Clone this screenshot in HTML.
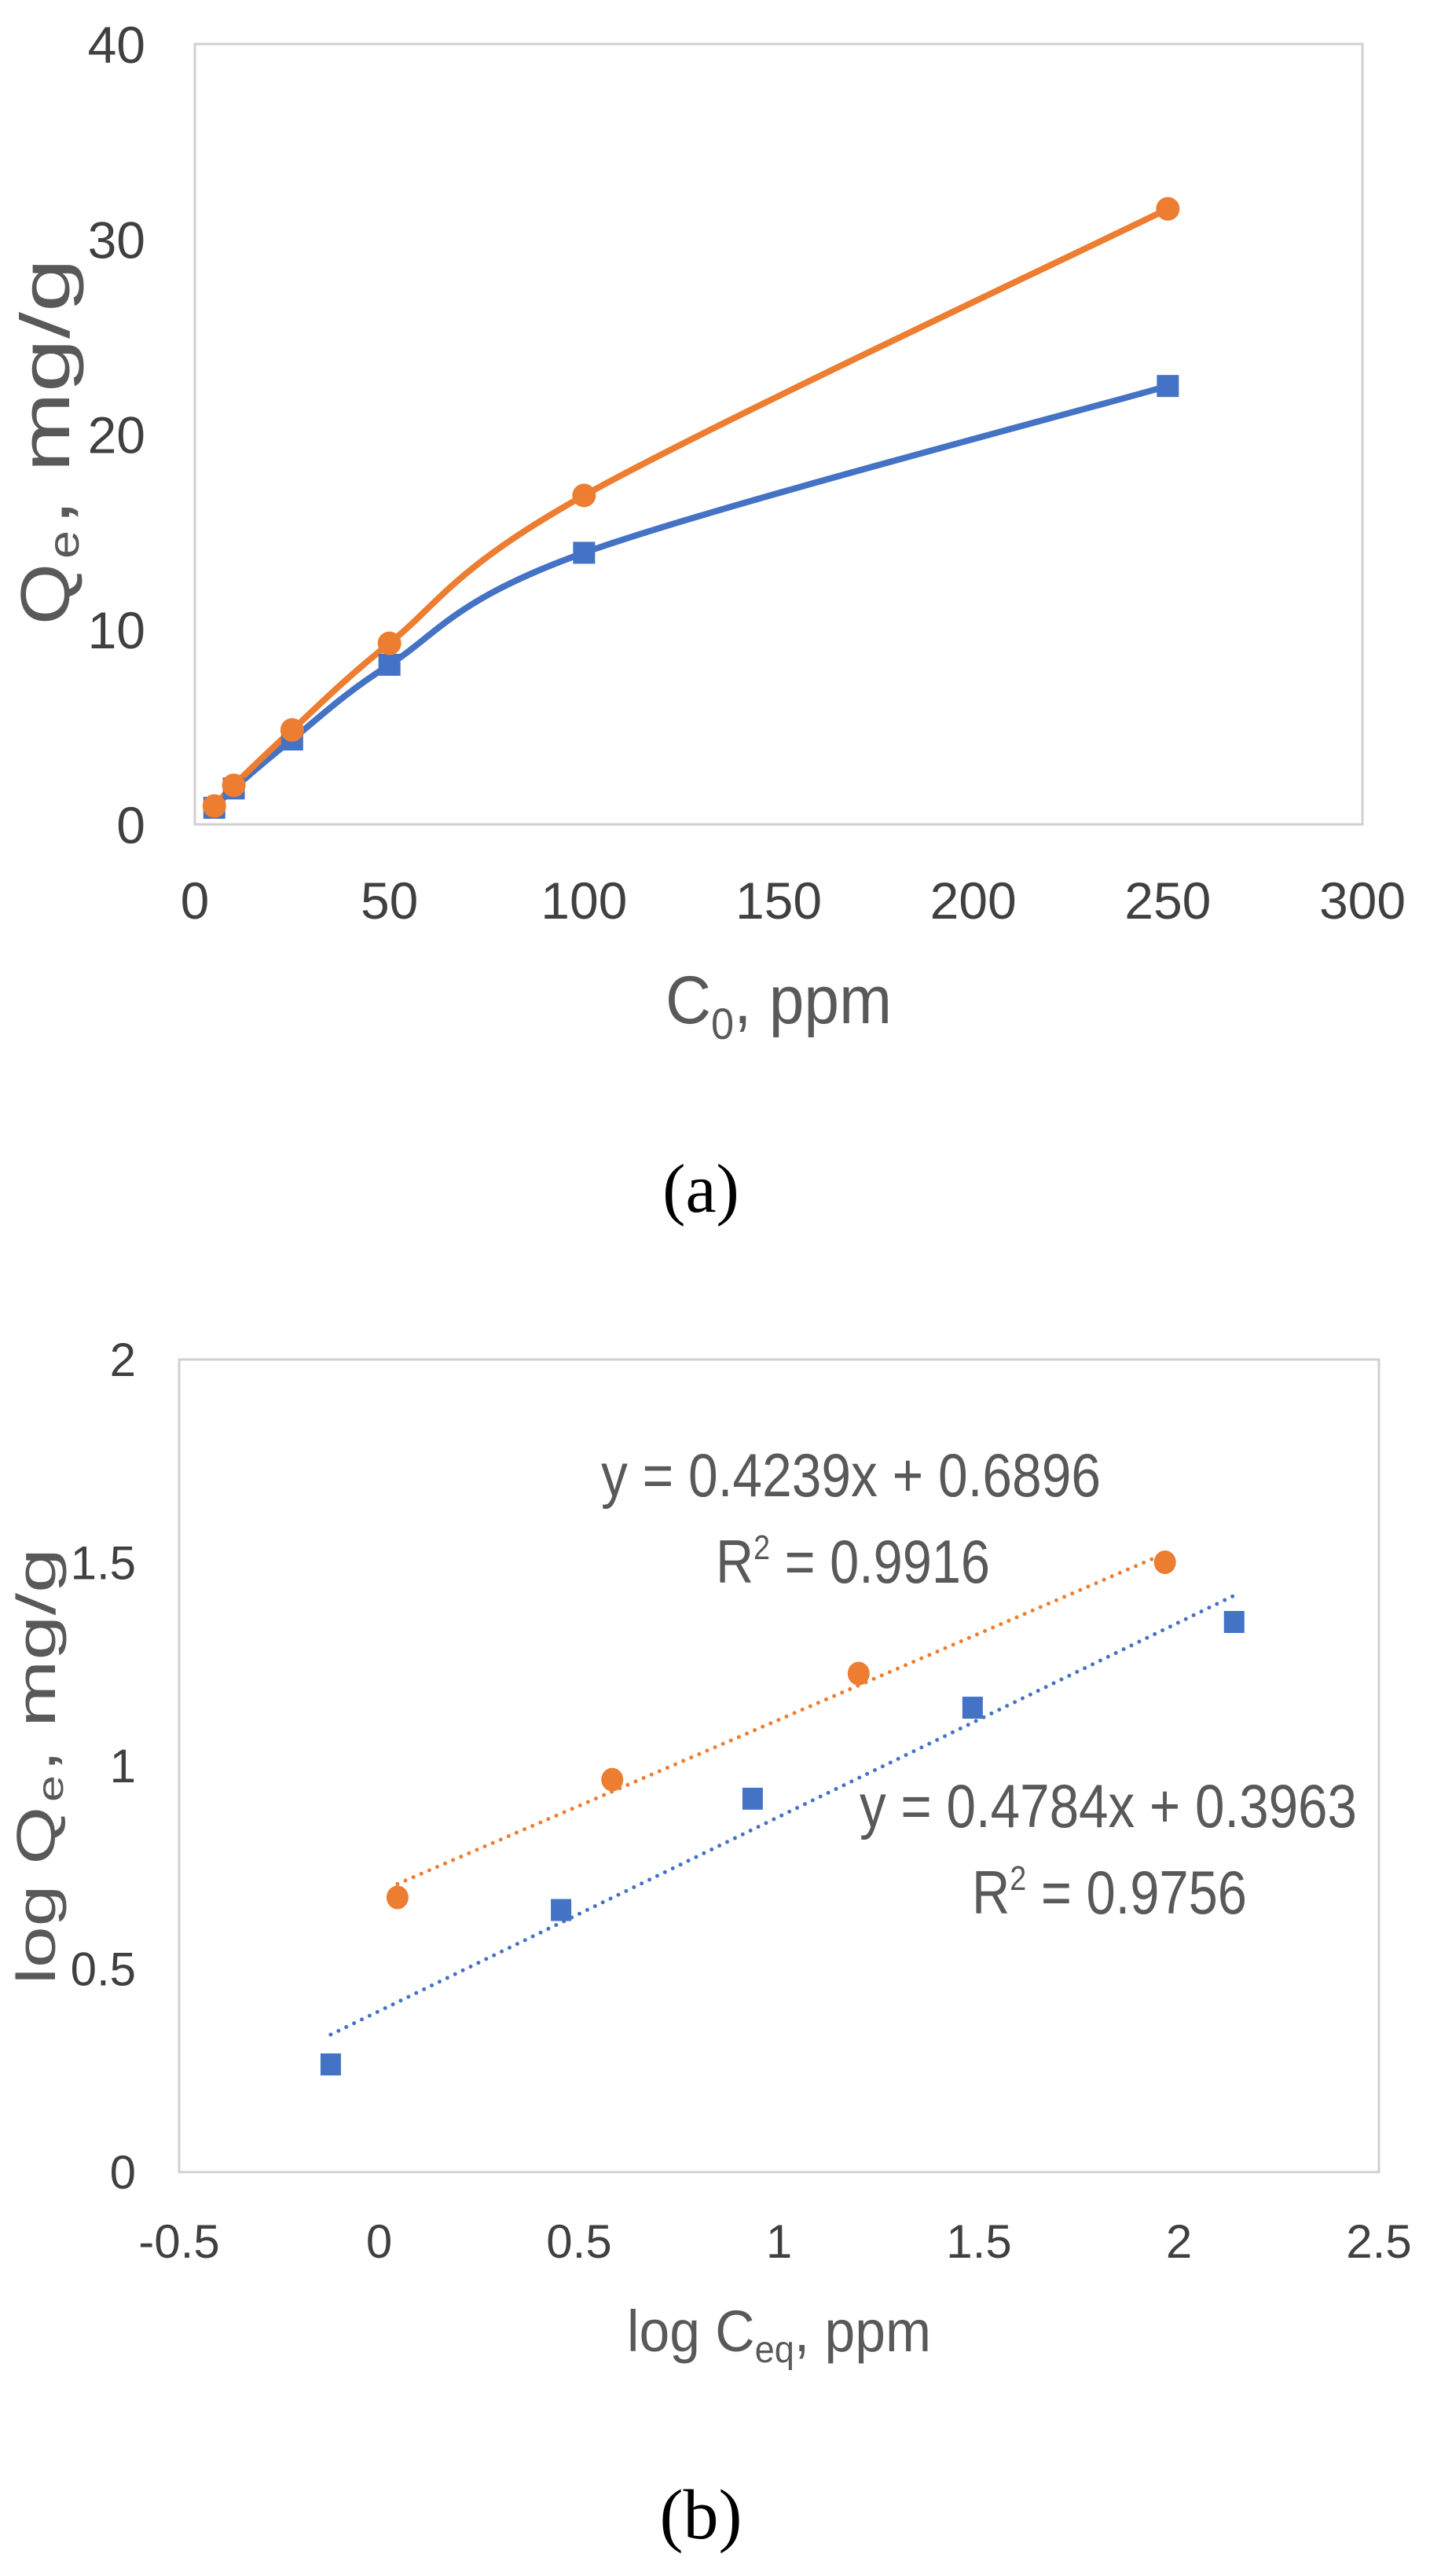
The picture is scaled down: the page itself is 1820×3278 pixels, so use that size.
<!DOCTYPE html>
<html><head><meta charset="utf-8">
<style>
html,body{margin:0;padding:0;background:#fff;}
svg{display:block;}
</style></head>
<body>
<svg id="fig" width="1820" height="3278" viewBox="0 0 1820 3278" xmlns="http://www.w3.org/2000/svg" font-family="'Liberation Sans', sans-serif">
<rect width="1820" height="3278" fill="#fff"/>
<g id="chartA"></g>
<g id="chartB"></g>
<text x="892" y="1542" font-family="'Liberation Serif', serif" font-size="88" text-anchor="middle" fill="#000">(a)</text>
<text x="892" y="3230" font-family="'Liberation Serif', serif" font-size="90" text-anchor="middle" fill="#000">(b)</text>
</svg>
<script>
// ---------- Chart A data ----------
const aX = [5, 10, 25, 50, 100, 250];
const aBlue = [0.85, 1.84, 4.35, 8.18, 13.92, 22.47];
const aOrange = [0.94, 2.0, 4.84, 9.28, 16.86, 31.55];
const aXTicks = [0, 50, 100, 150, 200, 250, 300];
const aYTicks = [0, 10, 20, 30, 40];
// ---------- Chart B data ----------
const bBlueX = [-0.121, 0.455, 0.934, 1.484, 2.138];
const bBlueY = [0.265, 0.645, 0.919, 1.143, 1.354];
const bOrangeX = [0.046, 0.583, 1.199, 1.965];
const bOrangeY = [0.676, 0.966, 1.227, 1.501];
const bBlueFit = [0.4784, 0.3963];
const bOrangeFit = [0.4239, 0.6896];
const bXTicks = [-0.5, 0, 0.5, 1, 1.5, 2, 2.5];
const bYTicks = [0, 0.5, 1, 1.5, 2];

const NS = 'http://www.w3.org/2000/svg';
const BLUE = '#4472C4', ORANGE = '#ED7D31';
function mk(parent, tag, attrs, text) {
  const e = document.createElementNS(NS, tag);
  for (const k in attrs) e.setAttribute(k, attrs[k]);
  if (text !== undefined) e.textContent = text;
  parent.appendChild(e);
  return e;
}
function smoothPath(pts) {
  let d = 'M' + pts[0][0] + ',' + pts[0][1];
  for (let i = 0; i < pts.length - 1; i++) {
    const p0 = pts[Math.max(0, i - 1)], p1 = pts[i], p2 = pts[i + 1], p3 = pts[Math.min(pts.length - 1, i + 2)];
    const t = 1 / 6;
    const c1 = [p1[0] + (p2[0] - p0[0]) * t, p1[1] + (p2[1] - p0[1]) * t];
    const c2 = [p2[0] - (p3[0] - p1[0]) * t, p2[1] - (p3[1] - p1[1]) * t];
    d += ' C' + c1[0] + ',' + c1[1] + ' ' + c2[0] + ',' + c2[1] + ' ' + p2[0] + ',' + p2[1];
  }
  return d;
}
// rotated title built from separately-fitted pieces: [text, start, width, fontSize, dy]
function rotTitle(parent, name, tx, ty, pieces) {
  const g = mk(parent, 'g', { transform: 'translate(' + tx + ',' + ty + ') rotate(-90)', fill: '#595959' });
  
  
  pieces.forEach(([s, x, w, fs, dy]) => {
    mk(g, 'text', { x: x, y: dy, 'font-size': fs, textLength: w, lengthAdjust: 'spacingAndGlyphs' }, s);
  });
}

// ---------- Chart A ----------
(function () {
  const g = document.getElementById('chartA');
  const L = 248, R = 1734, T = 56, B = 1049;
  const xs = v => L + (v - 0) / 300 * (R - L);
  const ys = v => B - v / 40 * (B - T);
  const box = mk(g, 'rect', { x: L, y: T, width: R - L, height: B - T, fill: 'none', stroke: '#d0d0d0', 'stroke-width': 3 });
  
  
  aYTicks.forEach(v => {
    const t = mk(g, 'text', { x: 185, y: ys(v) + 24, 'font-size': 66, 'text-anchor': 'end', fill: '#404040' }, String(v));
    
    
  });
  aXTicks.forEach(v => {
    const t = mk(g, 'text', { x: xs(v), y: 1169, 'font-size': 66, 'text-anchor': 'middle', fill: '#404040' }, String(v));
    
    
  });
  const series = [[aBlue, BLUE, 'blue'], [aOrange, ORANGE, 'orange']];
  series.forEach(([vals, col, nm]) => {
    const pts = aX.map((x, i) => [xs(x), ys(vals[i])]);
    const p = mk(g, 'path', { d: smoothPath(pts), fill: 'none', stroke: col, 'stroke-width': 8 });
    
    
  });
  series.forEach(([vals, col, nm]) => {
    aX.forEach((x, i) => {
      let m;
      if (nm === 'blue') m = mk(g, 'rect', { x: xs(x) - 14, y: ys(vals[i]) - 14, width: 28, height: 28, fill: col });
      else m = mk(g, 'circle', { cx: xs(x), cy: ys(vals[i]), r: 15, fill: col });
      
      
    });
  });
  rotTitle(g, 'y-axis-title-a', 88, 795, [
    ['Q', 0, 78, 88, 0],
    ['e', 84, 36, 56, 12],
    [', mg/g', 126, 340, 88, 0]
  ]);
  const xt = mk(g, 'text', { x: 847, y: 1302, 'font-size': 86, fill: '#595959', textLength: 288, lengthAdjust: 'spacingAndGlyphs' });
  
  
  xt.innerHTML = 'C<tspan font-size="56" dy="20">0</tspan><tspan dy="-20">, ppm</tspan>';
})();

// ---------- Chart B ----------
(function () {
  const g = document.getElementById('chartB');
  const L = 228, R = 1755, T = 1730, B = 2764;
  const xs = v => L + (v + 0.5) / 3 * (R - L);
  const ys = v => B - v / 2 * (B - T);
  const box = mk(g, 'rect', { x: L, y: T, width: R - L, height: B - T, fill: 'none', stroke: '#d0d0d0', 'stroke-width': 3 });
  
  
  bYTicks.forEach(v => {
    const t = mk(g, 'text', { x: 173, y: ys(v) + 21, 'font-size': 60, 'text-anchor': 'end', fill: '#404040' }, String(v));
    
    
  });
  bXTicks.forEach(v => {
    const t = mk(g, 'text', { x: xs(v), y: 2873, 'font-size': 60, 'text-anchor': 'middle', fill: '#404040' }, String(v));
    
    
  });
  const fits = [[bOrangeX, bOrangeFit, ORANGE, 'orange'], [bBlueX, bBlueFit, BLUE, 'blue']];
  fits.forEach(([xv, f, col, nm]) => {
    const x0 = Math.min(...xv), x1 = Math.max(...xv);
    const l = mk(g, 'line', { x1: xs(x0), y1: ys(f[0] * x0 + f[1]), x2: xs(x1), y2: ys(f[0] * x1 + f[1]), stroke: col, 'stroke-width': 5, 'stroke-dasharray': '0 11', 'stroke-linecap': 'round' });
    
    
  });
  bOrangeX.forEach((x, i) => {
    const c = mk(g, 'ellipse', { cx: xs(x), cy: ys(bOrangeY[i]), rx: 14, ry: 15, fill: ORANGE });
    
    
  });
  bBlueX.forEach((x, i) => {
    const r = mk(g, 'rect', { x: xs(x) - 13, y: ys(bBlueY[i]) - 14, width: 26, height: 28, fill: BLUE });
    
    
  });
  const eqs = [
    [765, 1904, 636, 'y = 0.4239x + 0.6896', 'equation-orange'],
    [1094, 2325, 633, 'y = 0.4784x + 0.3963', 'equation-blue']
  ];
  eqs.forEach(([x, y, w, s, nm]) => {
    const t = mk(g, 'text', { x: x, y: y, 'font-size': 78, fill: '#595959', textLength: w, lengthAdjust: 'spacingAndGlyphs' }, s);
    
    
  });
  const r2s = [[911, 2014, 349, '0.9916', 'r-squared-orange'], [1237, 2435, 350, '0.9756', 'r-squared-blue']];
  r2s.forEach(([x, y, w, s, nm]) => {
    const t = mk(g, 'text', { x: x, y: y, 'font-size': 78, fill: '#595959', textLength: w, lengthAdjust: 'spacingAndGlyphs' });
    
    
    t.innerHTML = 'R<tspan font-size="44" dy="-30">2</tspan><tspan dy="30"> = ' + s + '</tspan>';
  });
  rotTitle(g, 'y-axis-title-b', 70, 2525, [
    ['log Q', 0, 226, 70, 0],
    ['e', 232, 34, 46, 10],
    [', mg/g', 270, 285, 70, 0]
  ]);
  const xt = mk(g, 'text', { x: 798, y: 2992, 'font-size': 74, fill: '#595959', textLength: 387, lengthAdjust: 'spacingAndGlyphs' });
  
  
  xt.innerHTML = 'log C<tspan font-size="48" dy="14">eq</tspan><tspan dy="-14">, ppm</tspan>';
})();
</script>
</body></html>
